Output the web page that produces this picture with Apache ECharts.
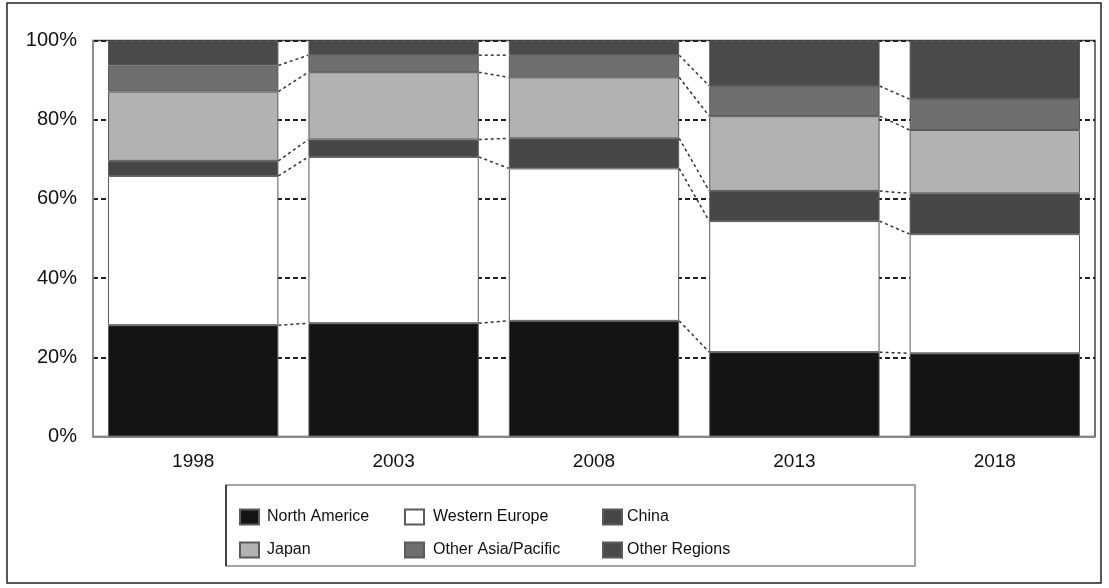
<!DOCTYPE html>
<html>
<head>
<meta charset="utf-8">
<title>regions share</title>
<script src="https://cdn.jsdelivr.net/npm/echarts@6/dist/echarts.min.js"></script>
<style>
  html, body { margin: 0; padding: 0; background: #fff; }
  #main { width: 1109px; height: 588px; }
</style>
</head>
<body>
<div id="main"></div>
<script type="text/javascript">
var years = ['1998', '2003', '2008', '2013', '2018'];
var yTicks = [0, 20, 40, 60, 80, 100];

var northAmerica = [28.1, 28.6, 29.2, 21.3, 21.0];
var westernEurope = [37.7, 42.0, 38.5, 33.1, 30.1];
var china = [3.8, 4.4, 7.6, 7.6, 10.3];
var japan = [17.5, 17.0, 15.4, 18.9, 16.0];
var otherAsia = [6.6, 4.3, 5.6, 7.6, 7.8];
var otherRegions = [6.3, 3.7, 3.7, 11.5, 14.8];

var font = '"Liberation Sans", Arial, sans-serif';

var layers = [
    {name: 'North Americe', data: northAmerica, color: '#141414'},
    {name: 'Western Europe', data: westernEurope, color: '#ffffff'},
    {name: 'China', data: china, color: '#474747'},
    {name: 'Japan', data: japan, color: '#b2b2b2'},
    {name: 'Other Asia/Pacific', data: otherAsia, color: '#6f6f6f'},
    {name: 'Other Regions', data: otherRegions, color: '#4a4a4a'}
];

// dotted connectors between the tops of each segment in neighbouring bars
var connectors = [];
var cum = [0, 0, 0, 0, 0];
for (var k = 0; k < layers.length - 1; k++) {
    for (var j = 0; j < years.length; j++) cum[j] += layers[k].data[j];
    for (var i = 0; i < years.length - 1; i++) {
        connectors.push([i, cum[i], cum[i + 1]]);
    }
}

var series = layers.map(function (l) {
    return {
        name: l.name,
        type: 'bar',
        stack: 'total',
        barWidth: '85%',
        data: l.data,
        itemStyle: {color: l.color, borderColor: '#5a5a5a', borderWidth: 1},
        z: 3
    };
});

series.push({
    type: 'custom',
    data: connectors,
    z: 4,
    silent: true,
    renderItem: function (params, api) {
        var a = api.coord([api.value(0), api.value(1)]);
        var b = api.coord([api.value(0) + 1, api.value(2)]);
        var half = api.size([1, 0])[0] * 0.85 / 2;
        return {
            type: 'line',
            shape: {x1: a[0] + half, y1: a[1], x2: b[0] - half, y2: b[1]},
            style: {stroke: '#333', lineWidth: 1.5, lineDash: [3, 3]}
        };
    }
});

function legendCol(names, left, pad) {
    return {
        data: names,
        orient: 'vertical',
        left: left,
        top: 503,
        itemWidth: 19,
        itemHeight: 15,
        itemGap: 15,
        selectedMode: false,
        icon: 'rect',
        textStyle: {fontFamily: font, fontSize: 16, color: '#111', lineHeight: 18, padding: [0, 0, 0, pad]}
    };
}

var myChart = echarts.init(document.getElementById('main'));

var option = {
    animation: false,
    backgroundColor: '#fff',
    grid: {
        left: 93, right: 14, top: 40.5, bottom: 151.5,
        show: true, borderColor: '#444', borderWidth: 1.5
    },
    legend: [
        legendCol(['North Americe', 'Japan'], 234, 3),
        legendCol(['Western Europe', 'Other Asia/Pacific'], 399, 4),
        legendCol(['China', 'Other Regions'], 597, 0)
    ],
    xAxis: {
        type: 'category',
        data: years,
        axisTick: {show: false},
        axisLine: {lineStyle: {color: '#888', width: 2}},
        axisLabel: {fontFamily: font, fontSize: 19, color: '#111', margin: 16}
    },
    yAxis: {
        type: 'value',
        min: yTicks[0],
        max: yTicks[yTicks.length - 1],
        interval: 20,
        axisLine: {show: true, lineStyle: {color: '#999', width: 1.5}},
        axisTick: {show: false},
        axisLabel: {
            fontFamily: font, fontSize: 20, color: '#111', margin: 16,
            padding: [10, 0, 0, 0],
            formatter: '{value}%'
        },
        splitLine: {lineStyle: {color: '#222', width: 2, type: [5, 3]}}
    },
    graphic: [
        {
            type: 'rect',
            shape: {x: 7, y: 3, width: 1094, height: 580},
            style: {fill: 'none', stroke: '#222', lineWidth: 1.5},
            silent: true
        },
        {
            type: 'rect',
            shape: {x: 226, y: 485, width: 689, height: 81},
            style: {fill: 'none', stroke: '#888', lineWidth: 1.5},
            silent: true
        },
        {
            type: 'line',
            shape: {x1: 226, y1: 485, x2: 226, y2: 566},
            style: {stroke: '#222', lineWidth: 1.5},
            silent: true
        }
    ],
    series: series
};

myChart.setOption(option);
</script>
</body>
</html>
